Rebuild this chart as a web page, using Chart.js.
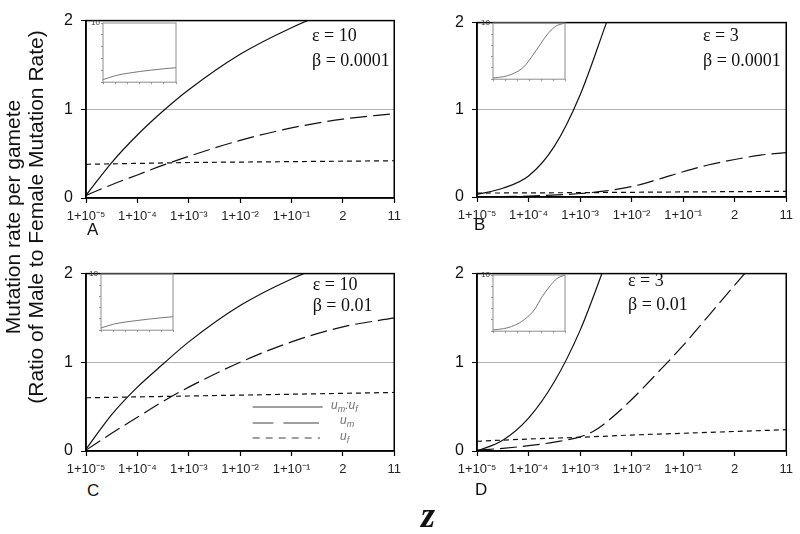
<!DOCTYPE html>
<html>
<head>
<meta charset="utf-8">
<script src="https://cdn.jsdelivr.net/npm/chart.js@4/dist/chart.umd.min.js"></script>
<style>
  body { margin: 0; background: #fff; }
  #page { position: relative; width: 800px; height: 534px; overflow: hidden; font-family: "Liberation Sans", Arial, sans-serif; }
  canvas { position: absolute; }
  .txt { position: absolute; white-space: nowrap; line-height: 1; }
  .param { font-family: "Liberation Serif", "Times New Roman", serif; font-size: 18px; color: #111; }
  .letter { font-size: 17px; color: #111; }
  .leg { position: absolute; font-size: 12px; font-style: italic; color: #707070; line-height: 14px; white-space: nowrap; }
  .leg sub { font-size: 9px; vertical-align: -3px; }
</style>
</head>
<body>
<div id="page">
  <canvas id="chartA" width="367" height="225" style="left:40px;top:3px"></canvas>
  <canvas id="chartB" width="368" height="222" style="left:431px;top:5px"></canvas>
  <canvas id="chartC" width="367" height="225" style="left:40px;top:256px"></canvas>
  <canvas id="chartD" width="368" height="225" style="left:431px;top:256px"></canvas>
  <canvas id="insetA" width="92" height="75" style="left:87px;top:13px"></canvas>
  <canvas id="insetB" width="91" height="72" style="left:477px;top:13px"></canvas>
  <canvas id="insetC" width="91" height="72" style="left:85px;top:264px"></canvas>
  <canvas id="insetD" width="91" height="72" style="left:477px;top:265px"></canvas>

  <!-- y axis title -->
  <div style="position:absolute;left:-186px;top:194px;width:420px;height:46px;transform:rotate(-90deg);text-align:center;font-size:21px;line-height:23px;color:#111;">
    Mutation rate per gamete<br>(Ratio of Male to Female Mutation Rate)
  </div>

  <div class="txt param" style="left:312px;top:25.9px">ε = 10</div>
  <div class="txt param" style="left:312px;top:50.9px">β = 0.0001</div>
  <div class="txt param" style="left:703px;top:25.9px">ε = 3</div>
  <div class="txt param" style="left:703px;top:50.9px">β = 0.0001</div>
  <div class="txt param" style="left:312.7px;top:274.6px">ε = 10</div>
  <div class="txt param" style="left:312.7px;top:295.9px">β = 0.01</div>
  <div class="txt param" style="left:628px;top:271.2px">ε = 3</div>
  <div class="txt param" style="left:628px;top:294.6px">β = 0.01</div>

  <div class="txt letter" style="left:87px;top:220.6px">A</div>
  <div class="txt letter" style="left:474px;top:215.6px">B</div>
  <div class="txt letter" style="left:87px;top:481.6px">C</div>
  <div class="txt letter" style="left:475px;top:480.6px">D</div>

  <div class="txt" style="left:421px;top:497px;font-family:'Liberation Serif',serif;font-weight:bold;font-style:italic;font-size:36px;color:#111;">z</div>

  <!-- legend (panel C) -->
  <svg style="position:absolute;left:250px;top:398px" width="80" height="46">
    <line x1="2.7" y1="9" x2="72.7" y2="9" stroke="#808080" stroke-width="1.5"/>
    <line x1="2.7" y1="25" x2="69" y2="25" stroke="#808080" stroke-width="1.5" stroke-dasharray="20.7 10 36"/>
    <line x1="2.7" y1="40" x2="70" y2="40" stroke="#808080" stroke-width="1.5" stroke-dasharray="7 6"/>
  </svg>
  <div class="leg" style="left:331px;top:397.5px">u<sub>m</sub>:u<sub>f</sub></div>
  <div class="leg" style="left:340px;top:412.5px">u<sub>m</sub></div>
  <div class="leg" style="left:340px;top:429px">u<sub>f</sub></div>
</div>

<script>
// x axis: index of the z tick (0 = 1+10^-5 ... 6 = 11)
const xLabels = ['1+10⁻⁵', '1+10⁻⁴', '1+10⁻³', '1+10⁻²', '1+10⁻¹', '2', '11'];

// panel A  (eps = 10, beta = 0.0001)
const xA = [0, 0.5, 1, 1.5, 2, 3, 4, 5, 6];
const ratioA = [0.03, 0.40, 0.71, 0.98, 1.22, 1.62, 1.92, 2.16, 2.36];
const maleA = [0.03, 0.15, 0.26, 0.37, 0.47, 0.65, 0.79, 0.89, 0.95];
const femaleA = [0.38, 0.385, 0.39, 0.395, 0.40, 0.405, 0.41, 0.415, 0.42];

// panel B  (eps = 3, beta = 0.0001)
const ratioBX = [0, 0.5, 1, 1.5, 2, 2.5, 3];
const ratioB = [0.03, 0.10, 0.24, 0.58, 1.17, 1.98, 2.8];
const maleBX = [0, 1, 2, 2.5, 3, 3.5, 4, 4.5, 5, 5.5, 6];
const maleB = [0.0, 0.01, 0.04, 0.07, 0.12, 0.20, 0.29, 0.37, 0.43, 0.48, 0.51];
const femaleBX = [0, 2, 4, 6];
const femaleB = [0.045, 0.05, 0.058, 0.065];

// panel C  (eps = 10, beta = 0.01)
const xC = [0, 0.5, 1, 1.5, 2, 3, 4, 5, 6];
const ratioC = [0.02, 0.41, 0.72, 0.98, 1.23, 1.64, 1.94, 2.17, 2.37];
const maleC = [0.01, 0.20, 0.38, 0.56, 0.72, 1.0, 1.23, 1.40, 1.50];
const femaleC = [0.60, 0.605, 0.61, 0.615, 0.62, 0.63, 0.64, 0.65, 0.66];

// panel D  (eps = 3, beta = 0.01)
const ratioDX = [0, 0.5, 1, 1.5, 2, 2.5, 3];
const ratioD = [0.0, 0.12, 0.37, 0.78, 1.36, 2.12, 2.9];
const maleDX = [0, 0.5, 1, 1.5, 2, 2.25, 2.5, 3, 3.5, 4, 4.5, 5, 5.5, 6];
const maleD = [0.01, 0.03, 0.06, 0.10, 0.16, 0.22, 0.32, 0.58, 0.88, 1.19, 1.53, 1.87, 2.2, 2.5];
const femaleDX = [0, 1, 2, 3, 4, 5, 6];
const femaleD = [0.11, 0.135, 0.155, 0.18, 0.20, 0.22, 0.24];

// insets (um:uf up to 10)
const insetACX = [0, 1, 2, 3, 4, 5, 6];
const insetA = [0.43, 1.1, 1.5, 1.8, 2.05, 2.27, 2.45];
const insetC = [0.4, 1.05, 1.45, 1.72, 1.98, 2.2, 2.4];
const insetBX = [0, 0.89, 1.72, 2.56, 3.39, 3.94, 4.5, 5.19, 6];
const insetB = [0.23, 0.46, 1.03, 2.18, 4.48, 6.2, 7.9, 9.37, 10];
const insetDX = [0, 0.89, 1.78, 2.61, 3.44, 4.08, 4.77, 5.33, 6];
const insetD = [0.23, 0.46, 1.03, 2.07, 3.79, 6.09, 8.1, 9.37, 10];

function pts(xs, ys) {
    return xs.map(function (x, i) { return { x: x, y: ys[i] }; });
}

// box round the plot area
const framePlugin = {
    id: 'frame',
    afterDraw(chart, args, opts) {
        const a = chart.chartArea;
        const ctx = chart.ctx;
        ctx.save();
        ctx.strokeStyle = opts.color || '#000';
        ctx.lineWidth = opts.width || 1.5;
        ctx.strokeRect(a.left, a.top, a.right - a.left, a.bottom - a.top);
        ctx.restore();
    }
};

function line(data, dash) {
    return {
        data: data,
        borderColor: '#111',
        borderWidth: 1.2,
        borderDash: dash,
        pointRadius: 0,
        fill: false,
        cubicInterpolationMode: 'monotone'
    };
}

function makePanel(id, ratio, male, female) {
    return new Chart(document.getElementById(id), {
        type: 'line',
        data: {
            datasets: [
                line(ratio, []),
                line(male, [17, 6]),
                line(female, [5, 4])
            ]
        },
        plugins: [framePlugin],
        options: {
            responsive: false,
            animation: false,
            layout: { padding: { top: 10, right: 10, left: 0, bottom: 0 } },
            plugins: { legend: { display: false }, tooltip: { enabled: false }, frame: { color: '#000', width: 1.5 } },
            scales: {
                x: {
                    type: 'linear', min: 0, max: 6,
                    afterFit: function (s) { s.height = 30; },
                    border: { display: true, color: '#000', width: 1.5 },
                    grid: { drawOnChartArea: false, tickLength: 5, tickColor: '#000', tickWidth: 1.2 },
                    ticks: {
                        stepSize: 1, autoSkip: false, maxRotation: 0, padding: 6, color: '#222',
                        font: { family: 'Liberation Sans', size: 13 },
                        callback: function (v) { return xLabels[v]; }
                    }
                },
                y: {
                    min: 0, max: 2,
                    afterFit: function (s) { s.width = 46; },
                    border: { display: true, color: '#000', width: 1.5 },
                    grid: {
                        color: function (c) { return c.tick && c.tick.value === 1 ? '#b4b4b4' : 'rgba(0,0,0,0)'; },
                        tickColor: '#000', tickLength: 5, lineWidth: 1
                    },
                    ticks: { stepSize: 1, padding: 8, color: '#111', font: { family: 'Liberation Sans', size: 16 } }
                }
            }
        }
    });
}

function makeInset(id, data) {
    return new Chart(document.getElementById(id), {
        type: 'line',
        data: {
            datasets: [{ data: data, borderColor: '#555', borderWidth: 0.8, pointRadius: 0, fill: false, cubicInterpolationMode: 'monotone' }]
        },
        plugins: [framePlugin],
        options: {
            responsive: false,
            animation: false,
            layout: { padding: { top: 10, right: 3, left: 0, bottom: 0 } },
            plugins: { legend: { display: false }, tooltip: { enabled: false }, frame: { color: '#8c8c8c', width: 1 } },
            scales: {
                x: {
                    type: 'linear', min: 0, max: 6,
                    afterFit: function (s) { s.height = 4; },
                    border: { display: false },
                    grid: { drawOnChartArea: false, tickLength: 2, tickColor: '#999' },
                    ticks: { display: false, stepSize: 1 }
                },
                y: {
                    min: 0, max: 10,
                    afterFit: function (s) { s.width = 16; },
                    border: { display: false },
                    grid: { drawOnChartArea: false, tickLength: 2, tickColor: '#999' },
                    ticks: {
                        stepSize: 2, padding: 1, color: '#333', autoSkip: false,
                        font: { family: 'Liberation Sans', size: 8 },
                        callback: function (v) { return v === 10 ? '10' : ''; }
                    }
                }
            }
        }
    });
}

makePanel('chartA', pts(xA, ratioA), pts(xA, maleA), pts(xA, femaleA));
makePanel('chartB', pts(ratioBX, ratioB), pts(maleBX, maleB), pts(femaleBX, femaleB));
makePanel('chartC', pts(xC, ratioC), pts(xC, maleC), pts(xC, femaleC));
makePanel('chartD', pts(ratioDX, ratioD), pts(maleDX, maleD), pts(femaleDX, femaleD));

makeInset('insetA', pts(insetACX, insetA));
makeInset('insetB', pts(insetBX, insetB));
makeInset('insetC', pts(insetACX, insetC));
makeInset('insetD', pts(insetDX, insetD));
</script>
</body>
</html>
